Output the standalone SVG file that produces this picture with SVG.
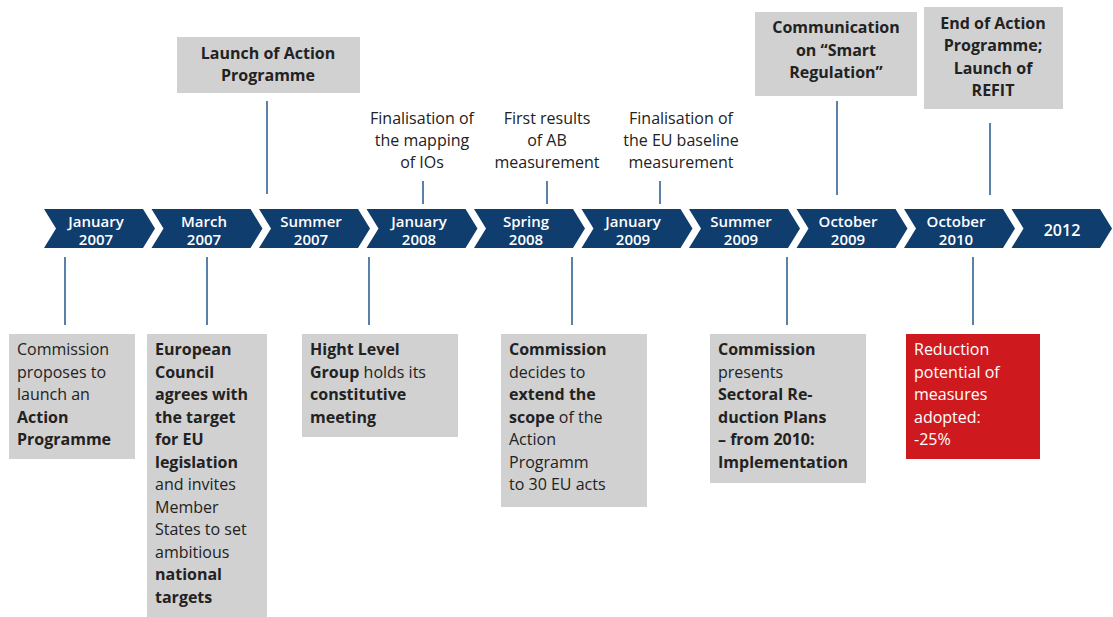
<svg xmlns="http://www.w3.org/2000/svg" width="1113" height="617" viewBox="0 0 1113 617">
<style>
.chev{fill:#0f3d6e}
.ct{fill:#ffffff;font-family:"Open Sans","Liberation Sans",sans-serif;font-size:15px;font-weight:600;text-anchor:middle}
.box{fill:#d1d1d1}
.red{fill:#ce1a1f}
.t{fill:#222222;font-family:"Open Sans","Liberation Sans",sans-serif;font-size:16px}
.w{fill:#ffffff;font-family:"Open Sans","Liberation Sans",sans-serif;font-size:16px}
.b{font-weight:bold}
.c{text-anchor:middle}
.ln{stroke:#23578c;stroke-width:1.5;fill:none}
</style>
<rect width="1113" height="617" fill="#ffffff"/>
<g id="timeline">
<polygon class="chev" points="44,209 143,209 155,228.5 143,248 44,248 56,228.5"/>
<text class="ct" x="96" y="226.5">January</text><text class="ct" x="96" y="244.5">2007</text>
<polygon class="chev" points="151.5,209 250.5,209 262.5,228.5 250.5,248 151.5,248 163.5,228.5"/>
<text class="ct" x="204" y="226.5">March</text><text class="ct" x="204" y="244.5">2007</text>
<polygon class="chev" points="259,209 358,209 370,228.5 358,248 259,248 271,228.5"/>
<text class="ct" x="311" y="226.5">Summer</text><text class="ct" x="311" y="244.5">2007</text>
<polygon class="chev" points="366.5,209 465.5,209 477.5,228.5 465.5,248 366.5,248 378.5,228.5"/>
<text class="ct" x="419" y="226.5">January</text><text class="ct" x="419" y="244.5">2008</text>
<polygon class="chev" points="474,209 573,209 585,228.5 573,248 474,248 486,228.5"/>
<text class="ct" x="526" y="226.5">Spring</text><text class="ct" x="526" y="244.5">2008</text>
<polygon class="chev" points="581.5,209 680.5,209 692.5,228.5 680.5,248 581.5,248 593.5,228.5"/>
<text class="ct" x="633" y="226.5">January</text><text class="ct" x="633" y="244.5">2009</text>
<polygon class="chev" points="689,209 788,209 800,228.5 788,248 689,248 701,228.5"/>
<text class="ct" x="741" y="226.5">Summer</text><text class="ct" x="741" y="244.5">2009</text>
<polygon class="chev" points="796.5,209 895.5,209 907.5,228.5 895.5,248 796.5,248 808.5,228.5"/>
<text class="ct" x="848" y="226.5">October</text><text class="ct" x="848" y="244.5">2009</text>
<polygon class="chev" points="904,209 1003,209 1015,228.5 1003,248 904,248 916,228.5"/>
<text class="ct" x="956" y="226.5">October</text><text class="ct" x="956" y="244.5">2010</text>
<polygon class="chev" points="1011.5,209 1100,209 1112,228.5 1100,248 1011.5,248 1023.5,228.5"/>
<text class="ct" x="1062" y="235.5" style="font-size:16px">2012</text>
</g>
<g id="connectors">
<line class="ln" x1="267" y1="101" x2="267" y2="194"/>
<line class="ln" x1="423" y1="181" x2="423" y2="204"/>
<line class="ln" x1="547" y1="181" x2="547" y2="204"/>
<line class="ln" x1="660" y1="181" x2="660" y2="204"/>
<line class="ln" x1="837" y1="101" x2="837" y2="195"/>
<line class="ln" x1="990" y1="123" x2="990" y2="195"/>
<line class="ln" x1="65" y1="257" x2="65" y2="325"/>
<line class="ln" x1="207" y1="257" x2="207" y2="325"/>
<line class="ln" x1="369" y1="257" x2="369" y2="325"/>
<line class="ln" x1="572" y1="257" x2="572" y2="325"/>
<line class="ln" x1="787" y1="257" x2="787" y2="325"/>
<line class="ln" x1="973" y1="257" x2="973" y2="325"/>
</g>
<g id="launch">
<rect class="box" x="177" y="37" width="183" height="56"/>
<text class="t b c" x="268" y="59">Launch of Action</text>
<text class="t b c" x="268" y="81">Programme</text>
</g>
<g id="smart">
<rect class="box" x="755" y="12" width="162" height="84"/>
<text class="t b c" x="836" y="33">Communication</text>
<text class="t b c" x="836" y="56">on “Smart</text>
<text class="t b c" x="836" y="78">Regulation”</text>
</g>
<g id="refit">
<rect class="box" x="924" y="7" width="139" height="102"/>
<text class="t b c" x="993" y="29">End of Action</text>
<text class="t b c" x="993" y="51">Programme;</text>
<text class="t b c" x="993" y="74">Launch of</text>
<text class="t b c" x="993" y="96">REFIT</text>
</g>
<g id="mapping">
<text class="t c" x="422" y="124">Finalisation of</text>
<text class="t c" x="422" y="146">the mapping</text>
<text class="t c" x="422" y="168">of IOs</text>
</g>
<g id="firstresults">
<text class="t c" x="547" y="124">First results</text>
<text class="t c" x="547" y="146">of AB</text>
<text class="t c" x="547" y="168">measurement</text>
</g>
<g id="baseline">
<text class="t c" x="681" y="124">Finalisation of</text>
<text class="t c" x="681" y="146">the EU baseline</text>
<text class="t c" x="681" y="168">measurement</text>
</g>
<g id="proposal">
<rect class="box" x="9" y="334" width="126" height="125"/>
<text class="t" x="17" y="355">Commission</text>
<text class="t" x="17" y="377.5">proposes to</text>
<text class="t" x="17" y="400">launch an</text>
<text class="t b" x="17" y="422.5">Action</text>
<text class="t b" x="17" y="445">Programme</text>
</g>
<g id="council">
<rect class="box" x="147" y="334" width="120" height="283"/>
<text class="t b" x="155" y="355">European</text>
<text class="t b" x="155" y="377.5">Council</text>
<text class="t b" x="155" y="400">agrees with</text>
<text class="t b" x="155" y="422.5">the target</text>
<text class="t b" x="155" y="445">for EU</text>
<text class="t b" x="155" y="467.5">legislation</text>
<text class="t" x="155" y="490">and invites</text>
<text class="t" x="155" y="512.5">Member</text>
<text class="t" x="155" y="535">States to set</text>
<text class="t" x="155" y="557.5">ambitious</text>
<text class="t b" x="155" y="580">national</text>
<text class="t b" x="155" y="602.5">targets</text>
</g>
<g id="hlg">
<rect class="box" x="302" y="334" width="156" height="103"/>
<text class="t b" x="310" y="355">Hight Level</text>
<text class="t" x="310" y="377.5"><tspan class="b">Group</tspan> holds its</text>
<text class="t b" x="310" y="400">constitutive</text>
<text class="t b" x="310" y="422.5">meeting</text>
</g>
<g id="scope">
<rect class="box" x="501" y="334" width="146" height="173"/>
<text class="t b" x="509" y="355">Commission</text>
<text class="t" x="509" y="377.5">decides to</text>
<text class="t b" x="509" y="400">extend the</text>
<text class="t" x="509" y="422.5"><tspan class="b">scope</tspan> of the</text>
<text class="t" x="509" y="445">Action</text>
<text class="t" x="509" y="467.5">Programm</text>
<text class="t" x="509" y="490">to 30 EU acts</text>
</g>
<g id="sectoral">
<rect class="box" x="710" y="334" width="156" height="149"/>
<text class="t b" x="718" y="355">Commission</text>
<text class="t" x="718" y="377.5">presents</text>
<text class="t b" x="718" y="400">Sectoral Re-</text>
<text class="t b" x="718" y="422.5">duction Plans</text>
<text class="t b" x="718" y="445">– from 2010:</text>
<text class="t b" x="718" y="467.5">Implementation</text>
</g>
<g id="reduction">
<rect class="red" x="906" y="334" width="134" height="125"/>
<text class="w" x="914" y="355">Reduction</text>
<text class="w" x="914" y="377.5">potential of</text>
<text class="w" x="914" y="400">measures</text>
<text class="w" x="914" y="422.5">adopted:</text>
<text class="w" x="914" y="445">-25%</text>
</g>
</svg>
